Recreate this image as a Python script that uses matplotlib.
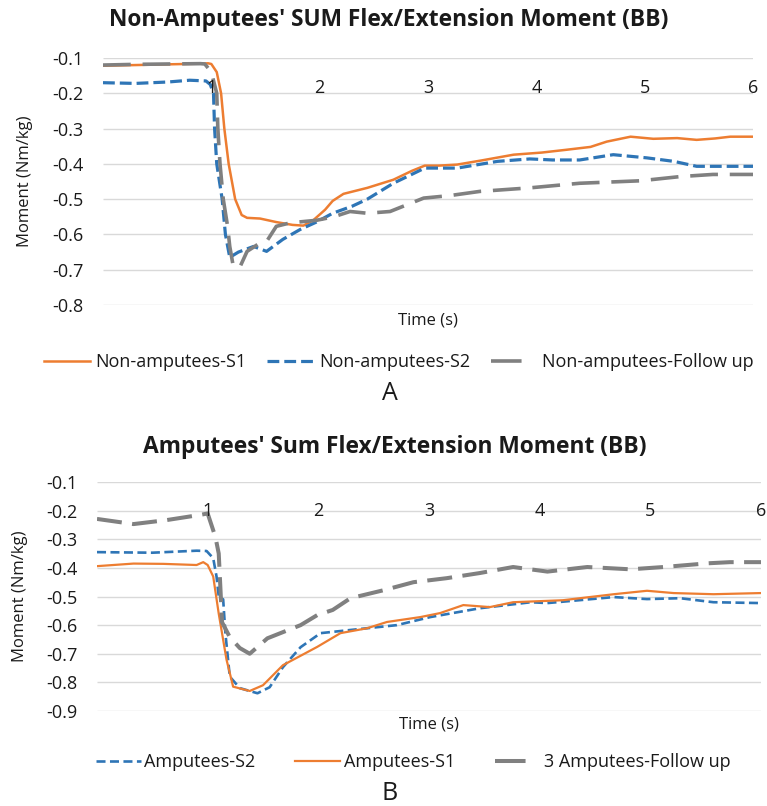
import matplotlib
matplotlib.use("Agg")
import matplotlib.pyplot as plt
from matplotlib.lines import Line2D

plt.rcParams['font.family'] = ['Open Sans', 'DejaVu Sans']
plt.rcParams['lines.scale_dashes'] = False

ORANGE = '#ED7D31'
BLUE = '#2E75B6'
GRAY = '#808080'
GRID = '#D9D9D9'
TEXT = '#1a1a1a'

# ---- Panel A: non-amputees ----
a_s1_t = [0, 0.3, 0.6, 0.9, 0.97, 1.0, 1.05, 1.09, 1.12, 1.16, 1.22, 1.28, 1.33, 1.45, 1.6, 1.75,
          1.85, 1.94, 2.05, 2.12, 2.22, 2.44, 2.68, 2.85, 2.97, 3.1, 3.27, 3.5, 3.79, 4.05, 4.28,
          4.5, 4.65, 4.87, 5.08, 5.3, 5.48, 5.65, 5.79, 6.0]
a_s1_v = [-0.122, -0.12, -0.118, -0.116, -0.115, -0.117, -0.14, -0.20, -0.30, -0.40, -0.50, -0.545,
          -0.553, -0.555, -0.565, -0.573, -0.575, -0.56, -0.53, -0.505, -0.485, -0.468, -0.445,
          -0.42, -0.405, -0.405, -0.402, -0.39, -0.374, -0.368, -0.36, -0.352, -0.337, -0.323,
          -0.329, -0.327, -0.332, -0.328, -0.323, -0.323]

a_s2_t = [0, 0.3, 0.6, 0.8, 0.95, 0.99, 1.02, 1.03, 1.05, 1.1, 1.13, 1.17, 1.25, 1.39, 1.51, 1.66,
          1.82, 1.97, 2.12, 2.3, 2.44, 2.68, 2.97, 3.27, 3.64, 3.94, 4.15, 4.4, 4.71, 5.02, 5.27,
          5.48, 5.7, 6.0]
a_s2_v = [-0.17, -0.172, -0.168, -0.163, -0.165, -0.175, -0.2, -0.3, -0.4, -0.5, -0.6, -0.665,
          -0.65, -0.634, -0.648, -0.614, -0.586, -0.565, -0.54, -0.52, -0.50, -0.455, -0.412,
          -0.412, -0.393, -0.386, -0.389, -0.389, -0.374, -0.383, -0.393, -0.407, -0.407, -0.407]

a_fu_t = [0, 0.3, 0.6, 0.9, 0.94, 1.0, 1.05, 1.06, 1.08, 1.11, 1.15, 1.17, 1.2, 1.26, 1.33, 1.45,
          1.51, 1.6, 1.73, 1.97, 2.13, 2.28, 2.44, 2.65, 2.96, 3.2, 3.48, 3.94, 4.4, 4.96, 5.33,
          5.63, 6.0]
a_fu_v = [-0.12, -0.118, -0.117, -0.116, -0.117, -0.14, -0.2, -0.3, -0.4, -0.5, -0.577, -0.634,
          -0.686, -0.695, -0.648, -0.624, -0.62, -0.577, -0.567, -0.56, -0.55, -0.535, -0.54,
          -0.535, -0.497, -0.49, -0.478, -0.468, -0.455, -0.448, -0.436, -0.43, -0.43]

# ---- Panel B: amputees ----
b_s2_t = [0, 0.5, 0.9, 0.99, 1.05, 1.08, 1.1, 1.14, 1.16, 1.2, 1.29, 1.45, 1.56, 1.68, 1.84, 2.02,
          2.29, 2.71, 3.01, 3.46, 3.92, 4.07, 4.67, 4.97, 5.27, 5.57, 6.0]
b_s2_v = [-0.345, -0.347, -0.34, -0.341, -0.366, -0.43, -0.5, -0.51, -0.628, -0.78, -0.82, -0.838,
          -0.817, -0.747, -0.677, -0.628, -0.617, -0.6, -0.572, -0.541, -0.52, -0.523, -0.502,
          -0.509, -0.506, -0.52, -0.523]

b_s1_t = [0, 0.33, 0.6, 0.9, 0.96, 1.0, 1.05, 1.1, 1.17, 1.23, 1.38, 1.5, 1.68, 1.99, 2.2, 2.44,
          2.62, 2.92, 3.1, 3.31, 3.55, 3.76, 4.21, 4.67, 4.97, 5.21, 5.57, 6.0]
b_s1_v = [-0.394, -0.385, -0.386, -0.39, -0.38, -0.39, -0.43, -0.56, -0.72, -0.815, -0.83, -0.81,
          -0.74, -0.676, -0.628, -0.611, -0.589, -0.572, -0.558, -0.53, -0.537, -0.52, -0.513,
          -0.492, -0.48, -0.488, -0.492, -0.488]

b_fu_t = [0, 0.33, 0.63, 0.93, 1.0, 1.07, 1.1, 1.13, 1.2, 1.29, 1.38, 1.54, 1.84, 1.99, 2.13, 2.29,
          2.59, 2.86, 3.16, 3.46, 3.76, 4.07, 4.43, 4.82, 5.12, 5.52, 5.72, 6.0]
b_fu_v = [-0.229, -0.247, -0.233, -0.215, -0.21, -0.292, -0.35, -0.59, -0.642, -0.68, -0.70, -0.646,
          -0.6, -0.565, -0.547, -0.506, -0.478, -0.45, -0.436, -0.418, -0.397, -0.413, -0.397,
          -0.405, -0.397, -0.384, -0.38, -0.38]

x_ticks = [1, 2, 3, 4, 5, 6]
x_tick_labels = ['1', '2', '3', '4', '5', '6']
a_yticks = [-0.8, -0.7, -0.6, -0.5, -0.4, -0.3, -0.2, -0.1]
b_yticks = [-0.9, -0.8, -0.7, -0.6, -0.5, -0.4, -0.3, -0.2, -0.1]

W, H = 767, 806
fig = plt.figure(figsize=(W / 100, H / 100), dpi=100)


def px_axes(left, top, right, bottom):
    return fig.add_axes([left / W, 1 - bottom / H, (right - left) / W, (bottom - top) / H])


def style_axes(ax, yticks, label_pad, xlabel_y, ylabel_x):
    ax.set_xlim(0, 6)
    ax.set_ylim(yticks[0], yticks[-1])
    ax.set_yticks(yticks)
    ax.set_yticklabels([f'{v:.1f}' for v in yticks])
    ax.set_xticks(x_ticks)
    ax.set_xticklabels(x_tick_labels)
    for s in ax.spines.values():
        s.set_visible(False)
    # horizontal gridlines kept beneath the series; tick labels stay above them
    ax.hlines(yticks, 0, 6, colors=GRID, linewidth=1.0, zorder=0.5)
    ax.set_axisbelow(False)
    ax.tick_params(axis='y', length=0, pad=14, labelsize=13, labelcolor=TEXT)
    ax.xaxis.set_ticks_position('top')
    ax.tick_params(axis='x', length=0, top=False, bottom=False, labeltop=True,
                   labelbottom=False, pad=label_pad, labelsize=13, labelcolor=TEXT)
    ax.xaxis.set_label_position('bottom')
    ax.set_xlabel('Time (s)', fontsize=12, color=TEXT, va='center')
    ax.set_ylabel('Moment (Nm/kg)', fontsize=12, color=TEXT, va='center')
    ax.xaxis.set_label_coords(0.5, xlabel_y)
    ax.yaxis.set_label_coords(ylabel_x, 0.5)


def legend_proxies(specs):
    return [Line2D([], [], color=c, lw=lw, linestyle=ls) for c, lw, ls in specs]


# Panel A
axA = px_axes(103, 58, 753, 305)
axA.plot(a_s1_t, a_s1_v, color=ORANGE, lw=1.8)
axA.plot(a_s2_t, a_s2_v, color=BLUE, lw=2.3, linestyle=(0, (8.5, 3.6)))
axA.plot(a_fu_t, a_fu_v, color=GRAY, lw=2.6, linestyle=(0, (20, 8.5)))
style_axes(axA, a_yticks, -28, -0.061, -0.12)
fig.text(388.5 / W, 1 - 20 / H, "Non-Amputees' SUM Flex/Extension Moment (BB)",
         ha='center', va='center', fontsize=16.4, fontweight='bold', color=TEXT)
handlesA = legend_proxies([(ORANGE, 1.8, '-'),
                           (BLUE, 2.3, (0, (8.5, 3.6))),
                           (GRAY, 2.6, (0, (22, 40)))])
axA.legend(handles=handlesA,
           labels=['Non-amputees-S1', 'Non-amputees-S2', 'Non-amputees-Follow up'],
           loc='center', bbox_to_anchor=(399 / W, 1 - 362 / H),
           bbox_transform=fig.transFigure, ncol=3, frameon=False, fontsize=13,
           handlelength=2.55, columnspacing=1.15, handletextpad=0.3, borderpad=0,
           labelcolor=TEXT)
fig.text(390 / W, 1 - 393 / H, 'A', ha='center', va='center', fontsize=18, color=TEXT)

# Panel B
axB = px_axes(97, 482, 761, 711)
axB.plot(b_s2_t, b_s2_v, color=BLUE, lw=1.9, linestyle=(0, (6.5, 3.2)))
axB.plot(b_s1_t, b_s1_v, color=ORANGE, lw=1.6)
axB.plot(b_fu_t, b_fu_v, color=GRAY, lw=2.9, linestyle=(0, (18, 7.5)))
style_axes(axB, b_yticks, -27, -0.057, -0.116)
fig.text(394.5 / W, 1 - 447 / H, "Amputees' Sum Flex/Extension Moment (BB)",
         ha='center', va='center', fontsize=16.4, fontweight='bold', color=TEXT)
handlesB = legend_proxies([(BLUE, 1.9, (0, (6.5, 3.2))),
                           (ORANGE, 1.6, '-'),
                           (GRAY, 2.9, (0, (22, 40)))])
axB.legend(handles=handlesB,
           labels=['Amputees-S2', 'Amputees-S1', '3 Amputees-Follow up'],
           loc='center', bbox_to_anchor=(413 / W, 1 - 762 / H),
           bbox_transform=fig.transFigure, ncol=3, frameon=False, fontsize=13,
           handlelength=2.5, columnspacing=2.2, handletextpad=0.2, borderpad=0,
           labelcolor=TEXT)
fig.text(390 / W, 1 - 793 / H, 'B', ha='center', va='center', fontsize=18, color=TEXT)

fig.savefig('out.png', dpi=100, facecolor='white')
